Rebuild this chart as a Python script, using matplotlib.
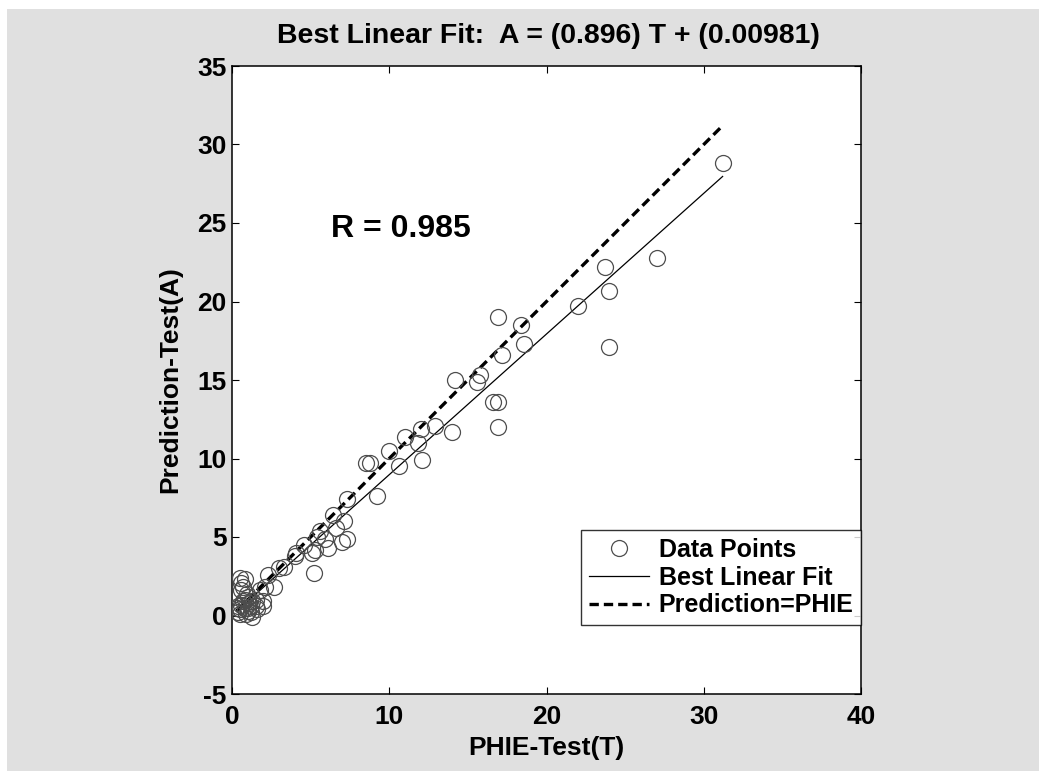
import matplotlib
matplotlib.use("Agg")
import matplotlib.pyplot as plt
from matplotlib.patches import Rectangle
import numpy as np

# ---- data ----
T = [31.2, 27.0, 23.7, 24.0, 22.0, 24.0, 16.9, 18.4, 18.6, 17.2,
     15.8, 15.6, 14.2, 16.6, 16.9, 16.9, 14.0, 12.9, 12.0, 11.0,
     11.8, 12.1, 10.0, 10.6, 8.5, 8.8, 9.2, 7.3, 6.4, 7.1,
     7.3, 7.0, 6.1, 5.6, 5.4, 5.3, 5.1, 4.6, 4.1, 5.2,
     3.3, 2.3, 2.7, 2.1, 2.0, 4.0, 5.9, 6.6, 3.0, 1.8,
     0.5, 0.8, 0.6, 0.7, 0.95, 0.6, 1.0, 0.3, 0.5, 0.6,
     0.8, 1.0, 1.2, 1.3, 1.5, 1.3, 0.9, 0.4, 0.7, 1.1,
     1.5, 0.4, 1.6, 1.2, 0.5, 1.0, 0.8, 2.0]
A = [28.8, 22.8, 22.2, 20.7, 19.7, 17.1, 19.0, 18.5, 17.3, 16.6,
     15.3, 14.9, 15.0, 13.6, 13.6, 12.0, 11.7, 12.1, 11.9, 11.4,
     11.0, 9.9, 10.5, 9.5, 9.7, 9.7, 7.6, 7.4, 6.4, 6.0,
     4.9, 4.7, 4.3, 5.4, 5.0, 4.2, 4.0, 4.5, 4.0, 2.7,
     3.1, 2.6, 1.8, 1.8, 0.9, 3.8, 4.9, 5.6, 3.0, 1.6,
     2.4, 2.3, 2.1, 1.8, 1.4, 1.6, 1.2, 0.5, 0.4, 0.7,
     0.5, 0.3, 0.6, 0.9, 0.6, -0.1, 0.1, 0.2, 0.9, 0.8,
     1.0, 0.6, 0.4, 0.2, 0.1, 0.5, 1.0, 0.6]

fit_slope = 0.896
fit_intercept = 0.00981
r_value = 0.985

x_ticks = [0, 10, 20, 30, 40]
y_ticks = [-5, 0, 5, 10, 15, 20, 25, 30, 35]

FONT = "Liberation Sans"
plt.rcParams['font.family'] = [FONT, 'DejaVu Sans']
plt.rcParams['font.weight'] = 'bold'
plt.rcParams['axes.unicode_minus'] = False

W, H = 1039, 771
fig = plt.figure(figsize=(W / 100, H / 100), dpi=100)
fig.patch.set_facecolor('white')
fig.patches.append(Rectangle((7 / W, 0), 1 - 7 / W, 1 - 9 / H,
                             transform=fig.transFigure, facecolor='#e0e0e0',
                             edgecolor='none', zorder=-10))

ax = fig.add_axes([232 / W, (H - 694) / H, 629 / W, 628 / H])
ax.set_facecolor('white')

T_arr = np.array(T)
xr = np.array([T_arr.min(), T_arr.max()])

ax.plot(T, A, linestyle='none', marker='o', markersize=11.5,
        markerfacecolor='none', markeredgecolor='#4d4d4d', markeredgewidth=0.9,
        label='Data Points', zorder=3)
ax.plot(xr, fit_slope * xr + fit_intercept, color='black', lw=0.9,
        label='Best Linear Fit', zorder=2)
ax.plot(xr, xr, color='black', lw=2.4, dashes=(2.8, 1.5),
        label='Prediction=PHIE', zorder=2)

ax.set_xlim(x_ticks[0], x_ticks[-1])
ax.set_ylim(y_ticks[0], y_ticks[-1])
ax.set_xticks(x_ticks)
ax.set_yticks(y_ticks)
ax.tick_params(direction='in', length=5, width=0.8, top=True, right=True,
               labelsize=19, colors='black')
ax.tick_params(axis='x', pad=8)
ax.tick_params(axis='y', pad=4)
for lab in ax.get_xticklabels() + ax.get_yticklabels():
    lab.set_fontweight('bold')
for s in ax.spines.values():
    s.set_linewidth(1.1)

ax.set_xlabel('PHIE-Test(T)', fontsize=19, fontweight='bold', va='center')
ax.xaxis.set_label_coords(0.5, (694 - 748) / 628)
ax.set_ylabel('Prediction-Test(A)', fontsize=19, fontweight='bold', va='center')
ax.yaxis.set_label_coords((170 - 232) / 629, 0.5)

fig.text(548 / W, 1 - 36 / H,
         f'Best Linear Fit:  A = ({fit_slope:g}) T + ({fit_intercept:g})',
         ha='center', va='center', fontsize=20.5, fontweight='bold')

ax.text(6.3, 24.6, f'R = {r_value:g}', fontsize=23, fontweight='bold',
        ha='left', va='center')

leg = ax.legend(loc='lower left', bbox_to_anchor=(0.555, 0.11, 0.445, 0.164),
                mode='expand', fontsize=18, frameon=True, fancybox=False,
                edgecolor='black', borderpad=0.3, labelspacing=0.15,
                handlelength=2.4, handletextpad=0.4, borderaxespad=0)
leg.get_frame().set_linewidth(1.0)
for t in leg.get_texts():
    t.set_fontweight('bold')

fig.savefig('out.png', dpi=100, facecolor=fig.get_facecolor())
